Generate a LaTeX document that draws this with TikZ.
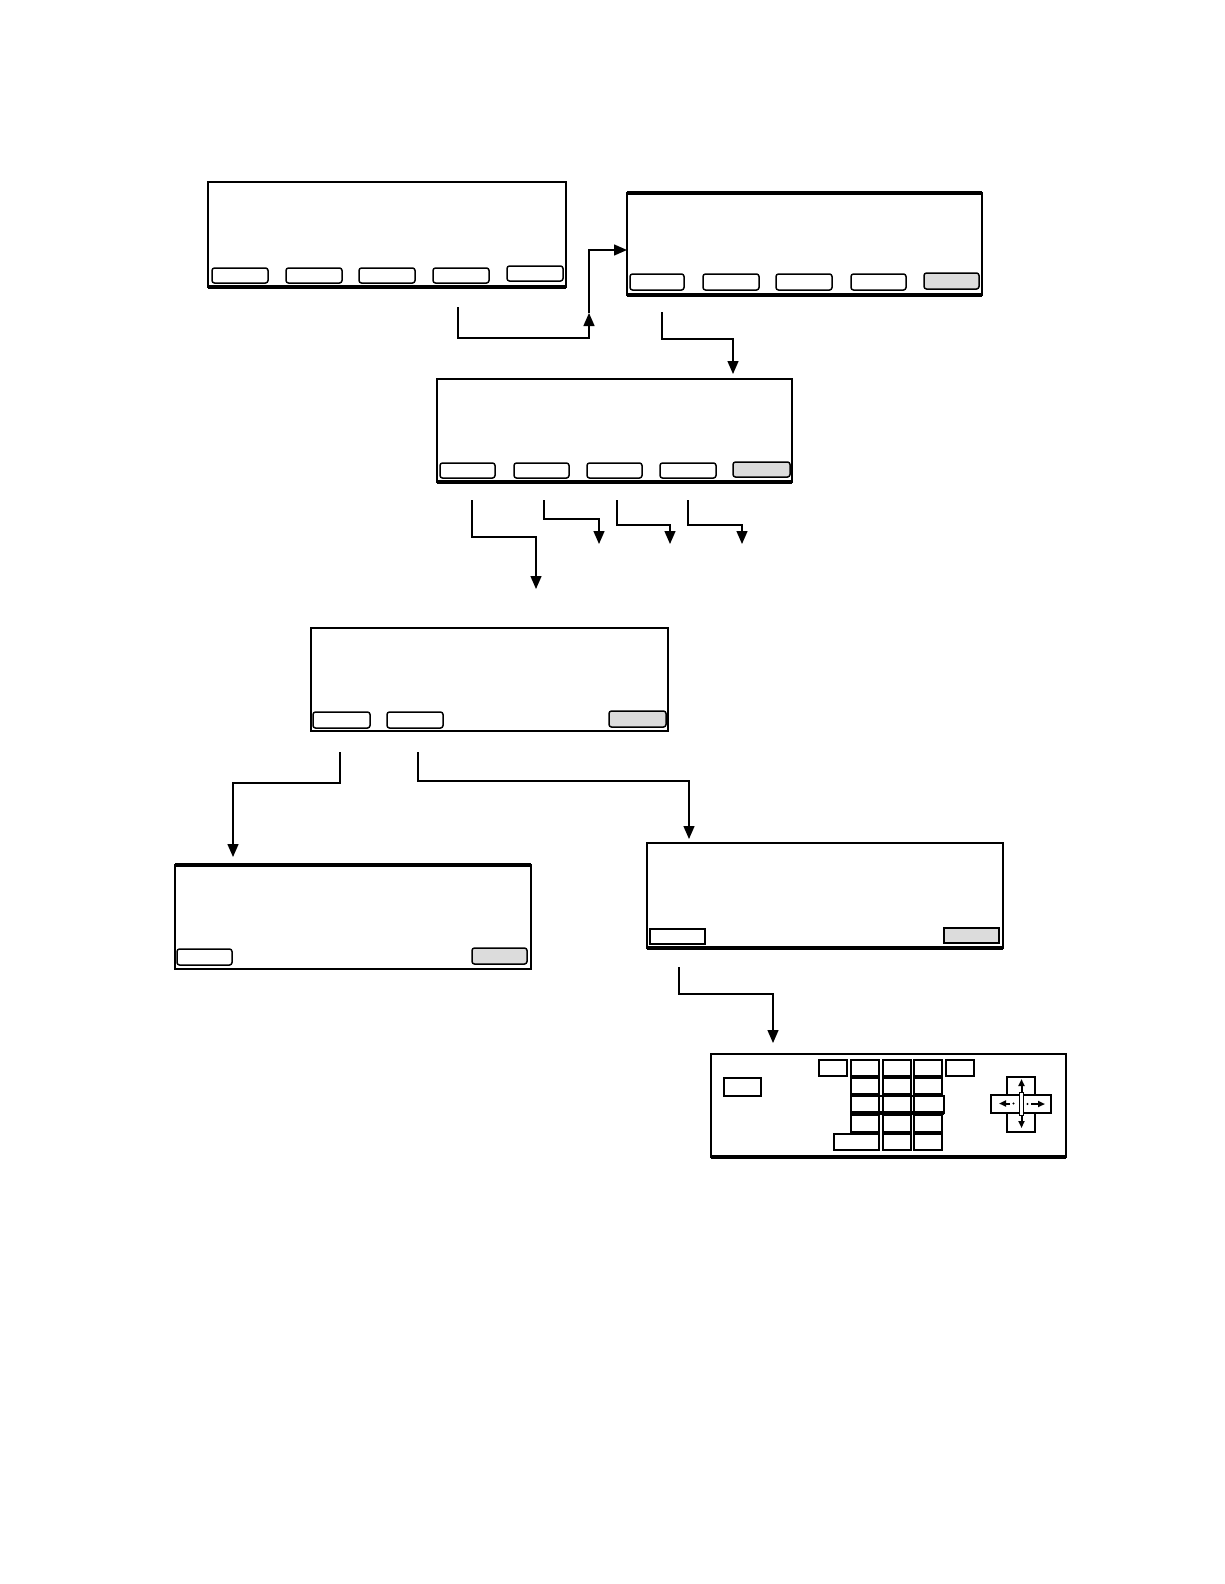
\documentclass[tikz,border=0pt]{standalone}
\usetikzlibrary{arrows.meta}
\definecolor{btngray}{HTML}{DCDCDC}
\tikzset{
 screen/.style={draw, line width=2pt, inner sep=0pt, outer sep=0pt, anchor=north west},
 btn/.style={draw, line width=1.5pt, rounded corners=2.5pt, inner sep=0pt, outer sep=0pt, anchor=north west, fill=white},
 gbtn/.style={btn, fill=btngray},
 sqbtn/.style={draw, line width=1.5pt, inner sep=0pt, outer sep=0pt, anchor=north west, fill=white},
 gsqbtn/.style={sqbtn, fill=btngray},
 key/.style={draw, line width=2pt, inner sep=0pt, outer sep=0pt, anchor=north west, fill=white},
 conn/.style={line width=1.4pt, -{Triangle[length=13pt,width=11pt]}},
 edgethick/.style={line width=3.5pt},
 padarrow/.style={line width=2pt, -{Triangle[length=7pt,width=6pt]}}
}
\begin{document}
\begin{tikzpicture}[x=1pt,y=-1pt]
\useasboundingbox (0,0) rectangle (1224,1584);
% screen 1
\node[screen, minimum width=358pt, minimum height=105pt] (s1) at (208,182) {};
\draw[edgethick] (s1.south west) -- (s1.south east);
\node[btn, minimum width=56pt, minimum height=15pt] (b11) at (212,268) {};
\node[btn, minimum width=56pt, minimum height=15pt] (b12) at (286,268) {};
\node[btn, minimum width=56pt, minimum height=15pt] (b13) at (359,268) {};
\node[btn, minimum width=56pt, minimum height=15pt] (b14) at (433,268) {};
\node[btn, minimum width=56pt, minimum height=15pt] (b15) at (507,266) {};
% screen 2
\node[screen, minimum width=355pt, minimum height=102pt] (s2) at (627,193) {};
\draw[edgethick] (s2.north west) -- (s2.north east);
\draw[edgethick] (s2.south west) -- (s2.south east);
\node[btn, minimum width=54pt, minimum height=16pt] (b21) at (630,274) {};
\node[btn, minimum width=56pt, minimum height=16pt] (b22) at (703,274) {};
\node[btn, minimum width=56pt, minimum height=16pt] (b23) at (776,274) {};
\node[btn, minimum width=55pt, minimum height=16pt] (b24) at (851,274) {};
\node[gbtn, minimum width=55pt, minimum height=16pt] (b25) at (924,273) {};
% screen 3
\node[screen, minimum width=355pt, minimum height=103pt] (s3) at (437,379) {};
\draw[edgethick] (s3.south west) -- (s3.south east);
\node[btn, minimum width=55pt, minimum height=15pt] (b31) at (440,463) {};
\node[btn, minimum width=55pt, minimum height=15pt] (b32) at (514,463) {};
\node[btn, minimum width=55pt, minimum height=15pt] (b33) at (587,463) {};
\node[btn, minimum width=56pt, minimum height=15pt] (b34) at (660,463) {};
\node[gbtn, minimum width=57pt, minimum height=15pt] (b35) at (733,462) {};
% screen 4
\node[screen, minimum width=357pt, minimum height=103pt] (s4) at (311,628) {};
\draw[line width=2.8pt] (s4.south west) -- (s4.south east);
\node[btn, minimum width=57pt, minimum height=16pt] (b41) at (313,712) {};
\node[btn, minimum width=56pt, minimum height=16pt] (b42) at (387,712) {};
\node[gbtn, minimum width=57pt, minimum height=16pt] (b43) at (609,711) {};
% screen 5
\node[screen, minimum width=356pt, minimum height=104pt] (s5) at (175,865) {};
\draw[edgethick] (s5.north west) -- (s5.north east);
\node[btn, minimum width=55pt, minimum height=16pt] (b51) at (177,949) {};
\node[gbtn, minimum width=55pt, minimum height=16pt] (b52) at (472,948) {};
% screen 6
\node[screen, minimum width=356pt, minimum height=105pt] (s6) at (647,843) {};
\draw[edgethick] (s6.south west) -- (s6.south east);
\node[sqbtn, minimum width=55pt, minimum height=15pt] (b61) at (650,929) {};
\node[gsqbtn, minimum width=55pt, minimum height=15pt] (b62) at (944,928) {};
% screen 7 (keyboard)
\node[screen, minimum width=355pt, minimum height=103pt] (s7) at (711,1054) {};
\draw[line width=2.6pt] (s7.north west) -- (s7.north east);
\draw[edgethick] (s7.south west) -- (s7.south east);
\node[key, minimum width=37pt, minimum height=18pt] (k0) at (724,1078) {};
% row 1
\node[key, minimum width=28pt, minimum height=16pt] (k11) at (819,1060) {};
\node[key, minimum width=28pt, minimum height=16pt] (k12) at (851,1060) {};
\node[key, minimum width=28pt, minimum height=16pt] (k13) at (883,1060) {};
\node[key, minimum width=28pt, minimum height=16pt] (k14) at (914,1060) {};
\node[key, minimum width=28pt, minimum height=16pt] (k15) at (946,1060) {};
% row 2
\node[key, minimum width=28pt, minimum height=16pt] (k21) at (851,1078) {};
\node[key, minimum width=28pt, minimum height=16pt] (k22) at (883,1078) {};
\node[key, minimum width=28pt, minimum height=16pt] (k23) at (914,1078) {};
% row 3
\node[key, minimum width=28pt, minimum height=17pt] (k31) at (851,1096) {};
\node[key, minimum width=28pt, minimum height=17pt] (k32) at (883,1096) {};
\node[key, minimum width=30pt, minimum height=17pt] (k33) at (914,1096) {};
\draw[line width=2.8pt] (k31.north west) -- (k33.north east);
% row 4
\node[key, minimum width=28pt, minimum height=17pt] (k41) at (851,1115) {};
\node[key, minimum width=28pt, minimum height=17pt] (k42) at (883,1115) {};
\node[key, minimum width=28pt, minimum height=17pt] (k43) at (914,1115) {};
\draw[line width=4.5pt] (k31.south west) -- (k33.south east);
% row 5
\node[key, minimum width=45pt, minimum height=16pt] (k51) at (834,1134) {};
\node[key, minimum width=28pt, minimum height=16pt] (k52) at (883,1134) {};
\node[key, minimum width=28pt, minimum height=16pt] (k53) at (914,1134) {};
% arrow pad
\node[key, minimum width=28pt, minimum height=18pt] (pu) at (1007,1077) {};
\node[key, minimum width=30pt, minimum height=18pt] (pl) at (991,1095) {};
\node[key, minimum width=28pt, minimum height=18pt] (pr) at (1023,1095) {};
\node[key, minimum width=28pt, minimum height=19pt] (pd) at (1007,1113) {};
\draw[line width=2pt, {Triangle[length=7pt,width=6pt]}-{Triangle[length=7pt,width=6pt]}] (1021.5,1079) -- (1021.5,1128);
\draw[line width=0.8pt, fill=white] (1019.8,1092) rectangle (1023.2,1115);
\draw[padarrow] (1010,1103.5) -- (999,1103.5);
\fill (1013.5,1103.5) circle (1.1pt);
\draw[padarrow] (1031,1104) -- (1045,1104);
\fill (1027.5,1104) circle (1.1pt);
% connectors
\coordinate (c1s) at (458,307);
\coordinate (c1m) at (589,313);
\draw[conn] (c1s) |- (589,338) -- (c1m);
\draw[conn] (c1m) |- ([yshift=-6pt]s2.west);
\coordinate (c2s) at (662,312);
\coordinate (c2e) at (733,374);
\draw[conn] (c2s) |- (733,339) -- (c2e);
\coordinate (c3s) at (472,500);
\coordinate (c3e) at (536,589);
\draw[conn] (c3s) |- (536,537) -- (c3e);
\coordinate (c4s) at (544,500);
\coordinate (c4e) at (599,544);
\draw[conn] (c4s) |- (599,519) -- (c4e);
\coordinate (c5s) at (617,500);
\coordinate (c5e) at (670,544);
\draw[conn] (c5s) |- (670,525) -- (c5e);
\coordinate (c6s) at (688,500);
\coordinate (c6e) at (742,544);
\draw[conn] (c6s) |- (742,525) -- (c6e);
\coordinate (c7s) at (340,752);
\coordinate (c7e) at (233,857);
\draw[conn] (c7s) |- (233,783) -- (c7e);
\coordinate (c8s) at (418,752);
\coordinate (c8e) at (689,839);
\draw[conn] (c8s) |- (689,781) -- (c8e);
\coordinate (c9s) at (679,967);
\coordinate (c9e) at (773,1043);
\draw[conn] (c9s) |- (773,994) -- (c9e);
\end{tikzpicture}
\end{document}
